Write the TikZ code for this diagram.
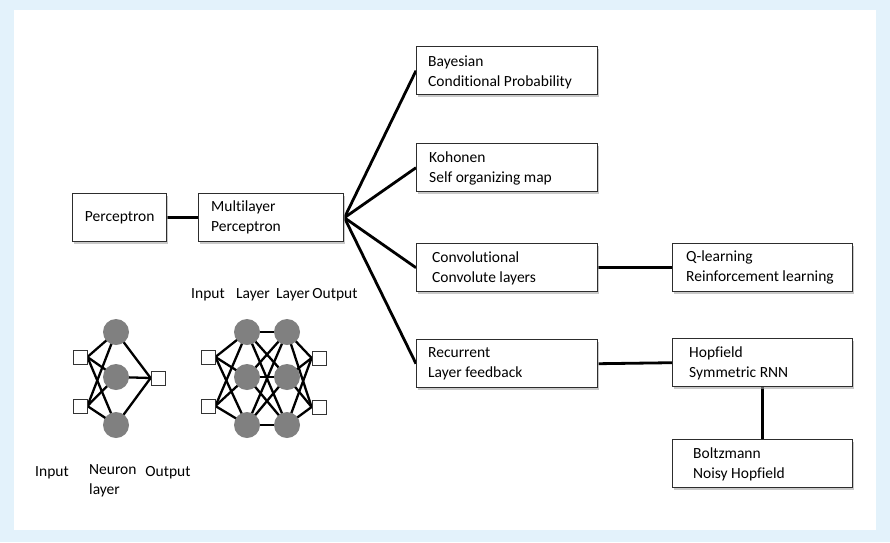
\documentclass[tikz,border=0pt]{standalone}
\usepackage{fontspec}
\setmainfont{Carlito}[Ligatures=NoCommon]
\usetikzlibrary{shadows,calc}
\pgfdeclarelayer{bg}
\pgfdeclarelayer{edges}
\pgfsetlayers{bg,edges,main}
\definecolor{frameblue}{RGB}{227,242,251}
\definecolor{boxline}{RGB}{45,45,45}
\definecolor{neuron}{RGB}{128,128,128}
\tikzset{
  box/.style={draw=boxline, line width=1.4pt, fill=white, rectangle, inner sep=0pt,
    drop shadow={shadow xshift=1.5pt, shadow yshift=-2pt, fill=black!35, opacity=0.6}},
  txt/.style={font=\fontsize{15.5}{20}\selectfont, align=left, inner sep=0pt, anchor=west},
  lbl/.style={font=\fontsize{15.5}{20}\selectfont, align=left, inner sep=0pt},
  conn/.style={line width=2.8pt, black},
  netedge/.style={line width=2.3pt, black},
  sq/.style={draw=black!80, line width=0.8pt, fill=white, rectangle, minimum size=14pt, inner sep=0pt},
  nrn/.style={circle, fill=neuron, minimum size=26pt, inner sep=0pt}
}
\begin{document}
\begin{tikzpicture}[x=1pt,y=-1pt]
\useasboundingbox (0,0) rectangle (890,542);
\begin{pgfonlayer}{bg}
\fill[frameblue] (0,0) rectangle (890,542);
\fill[white] (14,10) rectangle (876,530);
\end{pgfonlayer}

% boxes
\node[box, minimum width=94pt, minimum height=48pt, anchor=north west] (perc) at (72,193) {};
\node[box, minimum width=145pt, minimum height=48pt, anchor=north west] (mlp) at (198,193) {};
\node[box, minimum width=181pt, minimum height=48pt, anchor=north west] (bay) at (416,46) {};
\node[box, minimum width=181pt, minimum height=48pt, anchor=north west] (koh) at (416,143) {};
\node[box, minimum width=181pt, minimum height=48pt, anchor=north west] (conv) at (416,243) {};
\node[box, minimum width=181pt, minimum height=48pt, anchor=north west] (rec) at (416,339) {};
\node[box, minimum width=180pt, minimum height=48pt, anchor=north west] (ql) at (672,243) {};
\node[box, minimum width=180pt, minimum height=48pt, anchor=north west] (hop) at (672,338) {};
\node[box, minimum width=180pt, minimum height=48pt, anchor=north west] (boltz) at (672,439) {};

% box texts
\node[lbl] (tperc) at (perc.center) {Perceptron};
\node[txt] (tmlp) at ($(mlp.west)+(13,0)$) {Multilayer\\Perceptron};
\node[txt] (tbay) at ($(bay.west)+(12,2)$) {Bayesian\\Conditional Probability};
\node[txt] (tkoh) at ($(koh.west)+(13,1)$) {Kohonen\\Self organizing map};
\node[txt] (tconv) at ($(conv.west)+(16,1)$) {Convolutional\\Convolute layers};
\node[txt] (trec) at ($(rec.west)+(12,0)$) {Recurrent\\Layer feedback};
\node[txt] (tql) at ($(ql.west)+(14,0)$) {Q-learning\\Reinforcement learning};
\node[txt] (thop) at ($(hop.west)+(17,1)$) {Hopfield\\Symmetric RNN};
\node[txt] (tboltz) at ($(boltz.west)+(21,1)$) {Boltzmann\\Noisy Hopfield};

% connectors
\begin{pgfonlayer}{edges}
\draw[conn] (perc.east) -- (mlp.west);
\draw[conn] (mlp.east) -- (bay.west);
\draw[conn] (mlp.east) -- (koh.west);
\draw[conn] (mlp.east) -- (conv.west);
\draw[conn] (mlp.east) -- (rec.west);
\draw[conn] (conv.east) -- (ql.west);
\draw[conn] (rec.east) -- (hop.west);
\draw[conn] (hop.south) -- (boltz.north);
\end{pgfonlayer}

% single layer net
\node[sq] (si1) at (80,357) {};
\node[sq] (si2) at (80,406) {};
\node[nrn] (sn1) at (116,332) {};
\node[nrn] (sn2) at (116,377) {};
\node[nrn] (sn3) at (116,425) {};
\node[sq] (so) at (158,378) {};
\begin{pgfonlayer}{edges}
\foreach \i in {1,2} \foreach \j in {1,2,3} \draw[netedge] (si\i.east) -- (sn\j.center);
\foreach \j in {1,2,3} \draw[netedge] (sn\j.center) -- (so.west);
\end{pgfonlayer}

% multilayer net
\node[sq] (mi1) at (208,357) {};
\node[sq] (mi2) at (208,406) {};
\node[nrn] (ha1) at (247,332) {};
\node[nrn] (ha2) at (247,377) {};
\node[nrn] (ha3) at (247,425) {};
\node[nrn] (hb1) at (287,332) {};
\node[nrn] (hb2) at (287,377) {};
\node[nrn] (hb3) at (287,425) {};
\node[sq] (mo1) at (319,358) {};
\node[sq] (mo2) at (319,407) {};
\begin{pgfonlayer}{edges}
\foreach \i in {1,2} \foreach \j in {1,2,3} \draw[netedge] (mi\i.east) -- (ha\j.center);
\foreach \i in {1,2,3} \foreach \j in {1,2,3} \draw[netedge] (ha\i.center) -- (hb\j.center);
\foreach \i in {1,2,3} \foreach \j in {1,2} \draw[netedge] (hb\i.center) -- (mo\j.west);
\end{pgfonlayer}

% net labels
\node[lbl] (lin) at (208,295) {Input};
\node[lbl] (lla) at (253,295) {Layer};
\node[lbl] (llb) at (293,295) {Layer};
\node[lbl] (lout) at (335,295) {Output};
\node[lbl] (bin) at (52,473) {Input};
\node[lbl, anchor=north west] (bneu) at (89,464) {Neuron\\layer};
\node[lbl] (bout) at (168,473) {Output};
\end{tikzpicture}
\end{document}
